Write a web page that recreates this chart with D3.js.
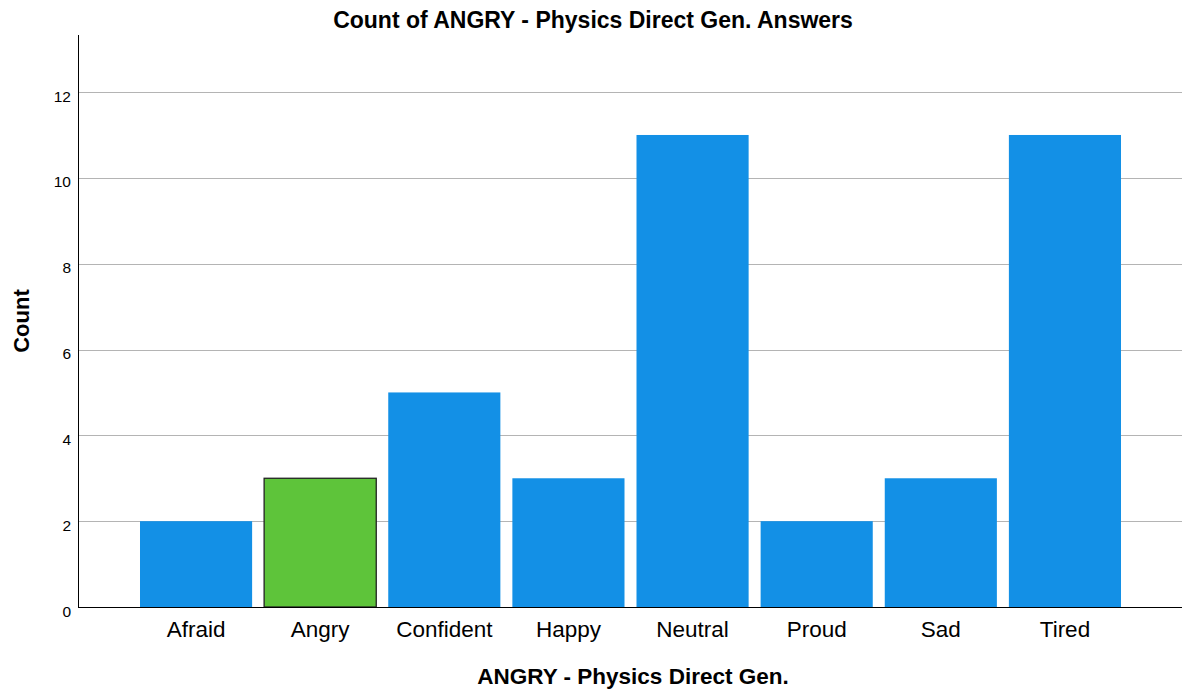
<!DOCTYPE html>
<html>
<head>
<meta charset="utf-8">
<script src="https://cdn.jsdelivr.net/npm/d3@7"></script>
<style>
  body { margin: 0; background: #fff; }
  text { font-family: "Liberation Sans", Arial, sans-serif; }
</style>
</head>
<body>
<div class="chart"></div>
<script>
const categories = ['Afraid', 'Angry', 'Confident', 'Happy', 'Neutral', 'Proud', 'Sad', 'Tired'];
const counts = [2, 3, 5, 3, 11, 2, 3, 11];
const highlight = 'Angry';
const yTicks = [0, 2, 4, 6, 8, 10, 12];

const width = 1185;
const height = 693;
const plotLeft = 78, plotRight = 1182, plotTop = 35, plotBottom = 607;

const svg = d3.select('.chart')
  .append('svg')
    .attr('width', width)
    .attr('height', height);

const x = d3.scaleBand()
  .domain(categories)
  .range([134, 1127])
  .paddingInner(0.0967)
  .paddingOuter(0.0483);

const y = d3.scaleLinear()
  .domain([0, 13.33])
  .range([plotBottom, plotTop]);

// grid lines
svg.append('g')
  .selectAll('line')
  .data(yTicks.filter(d => d > 0))
  .enter().append('line')
    .attr('x1', plotLeft)
    .attr('x2', plotRight)
    .attr('y1', d => Math.round(y(d)) + 0.5)
    .attr('y2', d => Math.round(y(d)) + 0.5)
    .attr('stroke', '#b4b4b4')
    .attr('stroke-width', 1);

// bars
svg.append('g')
  .selectAll('rect')
  .data(categories.map((c, i) => ({ cat: c, value: counts[i] })))
  .enter().append('rect')
    .attr('x', d => x(d.cat))
    .attr('y', d => y(d.value))
    .attr('width', x.bandwidth())
    .attr('height', d => y(0) - y(d.value))
    .attr('fill', d => d.cat === highlight ? '#5ec43a' : '#1390e6')
    .attr('stroke', d => d.cat === highlight ? '#222' : 'none')
    .attr('stroke-width', 1.3);

// y axis
const yAxis = svg.append('g')
  .attr('transform', `translate(${plotLeft},0)`)
  .call(d3.axisLeft(y).tickValues(yTicks).tickSize(0).tickPadding(7));
yAxis.select('.domain').attr('stroke', '#000').attr('d', `M0.5,${plotTop}V${plotBottom}`);
yAxis.selectAll('text').attr('font-size', 15.5).attr('fill', '#000').attr('dy', 9);

// x axis
const xAxis = svg.append('g')
  .attr('transform', `translate(0,${plotBottom})`)
  .call(d3.axisBottom(x).tickSize(0).tickPadding(14));
xAxis.select('.domain').attr('stroke', '#000').attr('d', `M${plotLeft},0.5H${plotRight}`);
xAxis.selectAll('text').attr('font-size', 22.5).attr('fill', '#000');

// titles
svg.append('text')
  .attr('x', 593)
  .attr('y', 28)
  .attr('text-anchor', 'middle')
  .attr('font-size', 23)
  .attr('font-weight', 'bold')
  .text('Count of ANGRY - Physics Direct Gen. Answers');

svg.append('text')
  .attr('x', 633)
  .attr('y', 684)
  .attr('text-anchor', 'middle')
  .attr('font-size', 22.5)
  .attr('font-weight', 'bold')
  .text('ANGRY - Physics Direct Gen.');

svg.append('text')
  .attr('transform', 'translate(29,321) rotate(-90)')
  .attr('text-anchor', 'middle')
  .attr('font-size', 22)
  .attr('font-weight', 'bold')
  .text('Count');
</script>
</body>
</html>
